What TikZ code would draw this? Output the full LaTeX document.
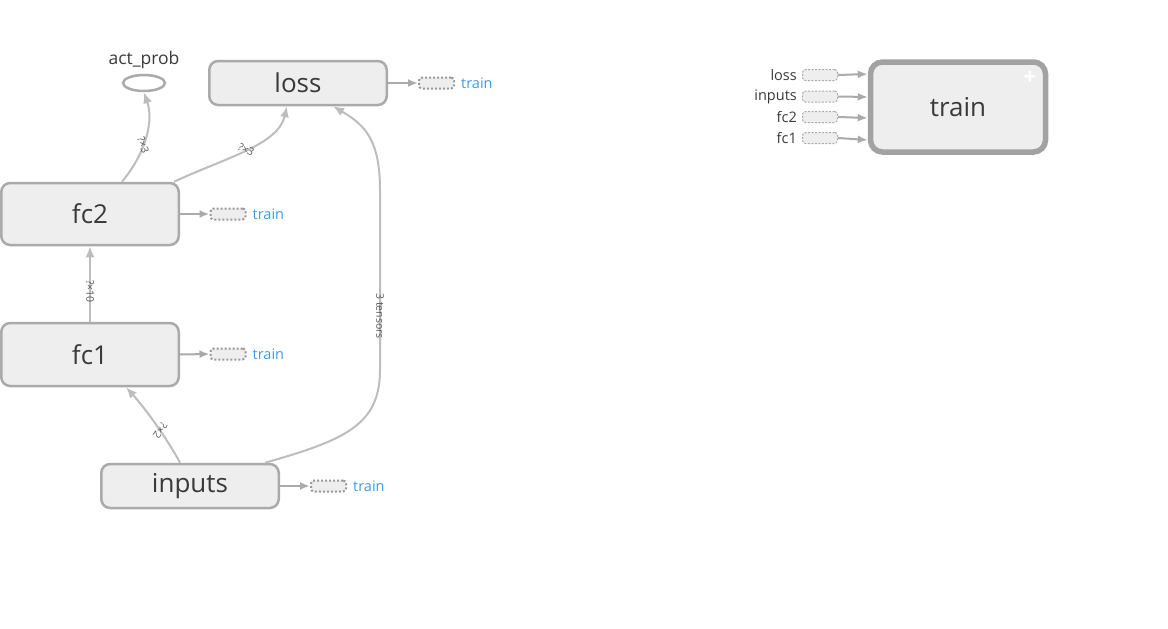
\documentclass[tikz,border=0pt]{standalone}
\usepackage{fontspec}
\setmainfont{Open Sans}
\usetikzlibrary{arrows.meta,positioning,shapes.geometric}

\definecolor{nodefill}{HTML}{EEEEEE}
\definecolor{nodeline}{HTML}{AAAAAA}
\definecolor{edgeline}{HTML}{BDBDBD}
\definecolor{inktext}{HTML}{3A3A3A}
\definecolor{trainblue}{HTML}{3D9BE9}

\tikzset{
  opnode/.style={draw=nodeline, fill=nodefill, line width=2.5pt, rounded corners=9pt,
    minimum width=177.5pt, text=inktext, font=\fontsize{26}{30}\selectfont},
  trainnode/.style={opnode, draw=nodeline!95!black, line width=5.5pt, rounded corners=12pt, minimum width=175pt, minimum height=90pt},
  outbox/.style={draw=nodeline!90!black, fill=nodefill, line width=2pt, dash pattern={on 2pt off 2pt},
    rounded corners=3pt, minimum width=35pt, minimum height=11pt, inner sep=0pt},
  inbox/.style={draw=nodeline, fill=nodefill, line width=1pt, dash pattern={on 2pt off 1.5pt},
    rounded corners=3pt, minimum width=35pt, minimum height=11pt, inner sep=0pt},
  outlabel/.style={text=trainblue, font=\fontsize{14.5}{16}\selectfont, inner sep=0pt},
  inlabel/.style={text=inktext, font=\fontsize{14.5}{16}\selectfont, inner sep=0pt},
  flow/.style={draw=edgeline, line width=2pt, -{Latex[length=11pt,width=9pt]}},
  feed/.style={draw=nodeline, line width=2pt, -{Latex[length=10pt,width=8pt]}},
  shapelabel/.style={font=\fontsize{10.5}{11}\selectfont, text=inktext!85, sloped, inner sep=0pt},
}

\begin{document}
\begin{tikzpicture}[x=1pt,y=1pt,yscale=-1,xscale=1]
    \path[use as bounding box] (0,0) rectangle (1168,629);

    %Shape: Ellipse [id:actprob]
    \node (actprob) at (144,83) [draw=nodeline, fill=white, line width=2.5pt, ellipse, minimum width=42pt, minimum height=16pt, inner sep=0pt] {};
    % Text Node
    \node (actproblabel) at (144,60) [text=inktext, font=\fontsize{17.5}{19}\selectfont, inner sep=0pt] {act\_prob};

    %Shape: Rounded Rect [id:loss]
    \node (loss) at (298,83) [opnode, minimum height=44pt] {loss};
    %Shape: Rounded Rect [id:fc2]
    \node (fc2) at (90,214) [opnode, minimum height=62pt] {fc2};
    %Shape: Rounded Rect [id:fc1]
    \node (fc1) at (90,354.5) [opnode, minimum height=63pt] {fc1};
    %Shape: Rounded Rect [id:inputs]
    \node (inputs) at (190,486) [opnode, minimum height=44pt] {inputs};

    %Shape: Rounded Rect [id:train]
    \node (train) at (958,107) [trainnode] {train};
    \node (trainplus) at (1030,78) [text=white, font=\bfseries\fontsize{22}{22}\selectfont, inner sep=0pt] {+};

    % outputs to train
    \node (lossout) at (436.5,83) [outbox] {};
    \node (fc2out) at (228,214) [outbox] {};
    \node (fc1out) at (228,354) [outbox] {};
    \node (inputsout) at (328.5,486) [outbox] {};
    \node [outlabel, right=6pt of lossout] {train};
    \node [outlabel, right=6pt of fc2out] {train};
    \node [outlabel, right=6pt of fc1out] {train};
    \node [outlabel, right=6pt of inputsout] {train};
    \draw [feed] (loss.east) -- (lossout.west);
    \draw [feed] (fc2.east) -- (fc2out.west);
    \draw [feed] (fc1.east) -- (fc1out.west);
    \draw [feed] (inputs.east) -- (inputsout.west);

    % inputs of train
    \node (lossin) at (820,75) [inbox] {};
    \node (inputsin) at (820,96.5) [inbox] {};
    \node (fc2in) at (820,117) [inbox] {};
    \node (fc1in) at (820,138) [inbox] {};
    \node [inlabel, left=5pt of lossin] {loss};
    \node [inlabel, left=5pt of inputsin] {inputs};
    \node [inlabel, left=5pt of fc2in] {fc2};
    \node [inlabel, left=5pt of fc1in] {fc1};
    \draw [feed] (lossin.east) -- ([yshift=-33]train.west);
    \draw [feed] (inputsin.east) -- ([yshift=-10]train.west);
    \draw [feed] (fc2in.east) -- ([yshift=11]train.west);
    \draw [feed] (fc1in.east) -- ([yshift=33]train.west);

    %Curve Lines [id:fc2-actprob]
    \draw [flow] ([xshift=32]fc2.north) .. controls (142,158) and (155,125) .. (actprob.south)
      node [shapelabel, pos=0.45] {?×3};
    %Curve Lines [id:fc2-loss]
    \draw [flow] ([xshift=84]fc2.north) .. controls (225,158) and (278,145) .. ([xshift=-11]loss.south)
      node [shapelabel, pos=0.5] {?×3};
    %Straight Lines [id:fc1-fc2]
    \draw [flow] (fc1.north) -- (fc2.south)
      node [shapelabel, pos=0.4] {?×10};
    %Curve Lines [id:inputs-fc1]
    \draw [flow] ([xshift=-10]inputs.north) .. controls (168,440) and (145,408) .. ([xshift=36]fc1.south)
      node [shapelabel, allow upside down, pos=0.42] {?×2};
    %Curve Lines [id:inputs-loss]
    \draw [flow] ([xshift=75]inputs.north) .. controls (345,440) and (380,425) .. (380,370)
      -- node [shapelabel, pos=0.3] {3 tensors} (380,190)
      .. controls (380,140) and (365,125) .. ([xshift=35]loss.south);

\end{tikzpicture}
\end{document}
